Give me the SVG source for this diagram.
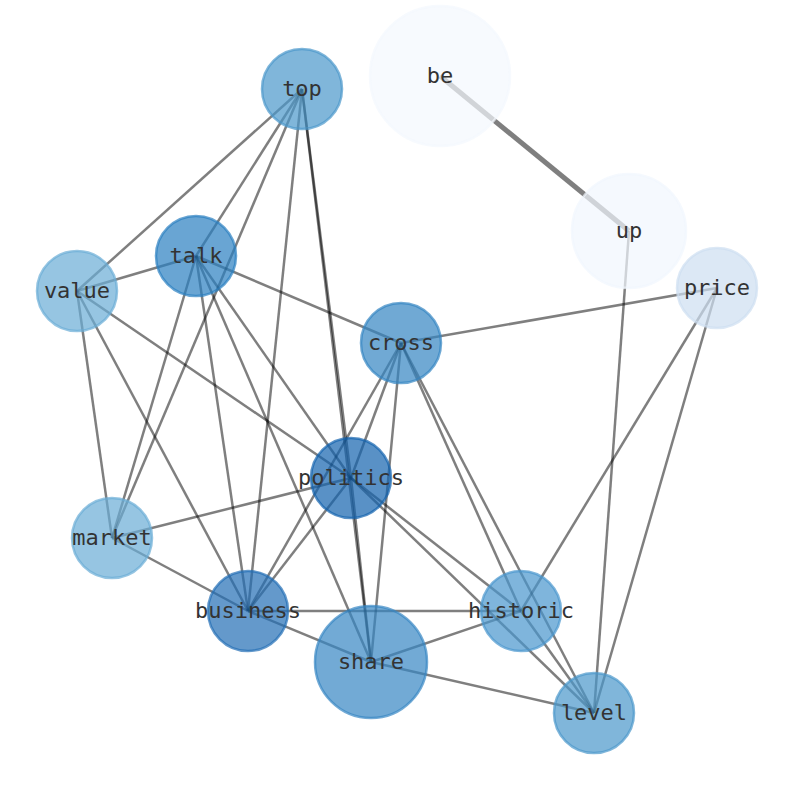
<svg xmlns="http://www.w3.org/2000/svg" width="794" height="790" viewBox="0 0 794 790">
<style>
.e{stroke:#000;stroke-opacity:0.5;stroke-width:2.5;fill:none}
.n circle{fill-opacity:0.7;stroke-opacity:0.7;stroke-width:2.5}
.n text{font-family:"DejaVu Sans Mono","Liberation Mono",monospace;font-size:22px;fill:#333;text-anchor:middle;dominant-baseline:central}
</style>
<rect width="794" height="790" fill="#fff"/>
<g id="edges">
<line class="e" x1="302" y1="89" x2="77" y2="291"/>
<line class="e" x1="302" y1="89" x2="196" y2="256"/>
<line class="e" x1="302" y1="89" x2="112" y2="538"/>
<line class="e" x1="302" y1="89" x2="248" y2="611"/>
<line class="e" x1="302" y1="89" x2="371" y2="662"/>
<line class="e" x1="302" y1="89" x2="351" y2="478"/>
<line class="e" x1="196" y1="256" x2="77" y2="291"/>
<line class="e" x1="196" y1="256" x2="401" y2="343"/>
<line class="e" x1="196" y1="256" x2="351" y2="478"/>
<line class="e" x1="196" y1="256" x2="371" y2="662"/>
<line class="e" x1="196" y1="256" x2="248" y2="611"/>
<line class="e" x1="196" y1="256" x2="112" y2="538"/>
<line class="e" x1="77" y1="291" x2="351" y2="478"/>
<line class="e" x1="77" y1="291" x2="248" y2="611"/>
<line class="e" x1="77" y1="291" x2="112" y2="538"/>
<line class="e" x1="401" y1="343" x2="717" y2="288"/>
<line class="e" x1="401" y1="343" x2="351" y2="478"/>
<line class="e" x1="401" y1="343" x2="248" y2="611"/>
<line class="e" x1="401" y1="343" x2="371" y2="662"/>
<line class="e" x1="401" y1="343" x2="521" y2="611"/>
<line class="e" x1="401" y1="343" x2="594" y2="713"/>
<line class="e" x1="351" y1="478" x2="112" y2="538"/>
<line class="e" x1="351" y1="478" x2="248" y2="611"/>
<line class="e" x1="351" y1="478" x2="371" y2="662"/>
<line class="e" x1="351" y1="478" x2="521" y2="611"/>
<line class="e" x1="351" y1="478" x2="594" y2="713"/>
<line class="e" x1="112" y1="538" x2="248" y2="611"/>
<line class="e" x1="248" y1="611" x2="371" y2="662"/>
<line class="e" x1="248" y1="611" x2="521" y2="611"/>
<line class="e" x1="371" y1="662" x2="521" y2="611"/>
<line class="e" x1="371" y1="662" x2="594" y2="713"/>
<line class="e" x1="521" y1="611" x2="717" y2="288"/>
<line class="e" x1="521" y1="611" x2="594" y2="713"/>
<line class="e" x1="594" y1="713" x2="717" y2="288"/>
<line class="e" x1="594" y1="713" x2="629" y2="231"/>
<line class="e" x1="440" y1="76" x2="629" y2="231" style="stroke-width:5"/>
</g>
<g id="be" class="n"><circle cx="440" cy="76" r="70" fill="#f3f8fe" stroke="#f3f8fe"/><text x="440" y="75">be</text></g>
<g id="up" class="n"><circle cx="629" cy="231" r="57" fill="#f1f6fd" stroke="#f1f6fd"/><text x="629" y="230">up</text></g>
<g id="price" class="n"><circle cx="717" cy="288" r="40" fill="#cddef1" stroke="#cddef1"/><text x="717" y="287">price</text></g>
<g id="top" class="n"><circle cx="302" cy="89" r="40" fill="#4a97ca" stroke="#4a97ca"/><text x="302" y="88">top</text></g>
<g id="talk" class="n"><circle cx="196" cy="256" r="40" fill="#2a7fc0" stroke="#2a7fc0"/><text x="196" y="255">talk</text></g>
<g id="value" class="n"><circle cx="77" cy="291" r="40" fill="#6aacd5" stroke="#6aacd5"/><text x="77" y="290">value</text></g>
<g id="cross" class="n"><circle cx="401" cy="343" r="40" fill="#3384c2" stroke="#3384c2"/><text x="401" y="342">cross</text></g>
<g id="politics" class="n"><circle cx="351" cy="478" r="40" fill="#1362ae" stroke="#1362ae"/><text x="351" y="477">politics</text></g>
<g id="market" class="n"><circle cx="112" cy="538" r="40" fill="#6aacd5" stroke="#6aacd5"/><text x="112" y="537">market</text></g>
<g id="business" class="n"><circle cx="248" cy="611" r="40" fill="#226db5" stroke="#226db5"/><text x="248" y="610">business</text></g>
<g id="share" class="n"><circle cx="371" cy="662" r="56" fill="#3686c3" stroke="#3686c3"/><text x="371" y="661">share</text></g>
<g id="historic" class="n"><circle cx="521" cy="611" r="40" fill="#4895cd" stroke="#4895cd"/><text x="521" y="610">historic</text></g>
<g id="level" class="n"><circle cx="594" cy="713" r="40" fill="#4a97ca" stroke="#4a97ca"/><text x="594" y="712">level</text></g>
</svg>
